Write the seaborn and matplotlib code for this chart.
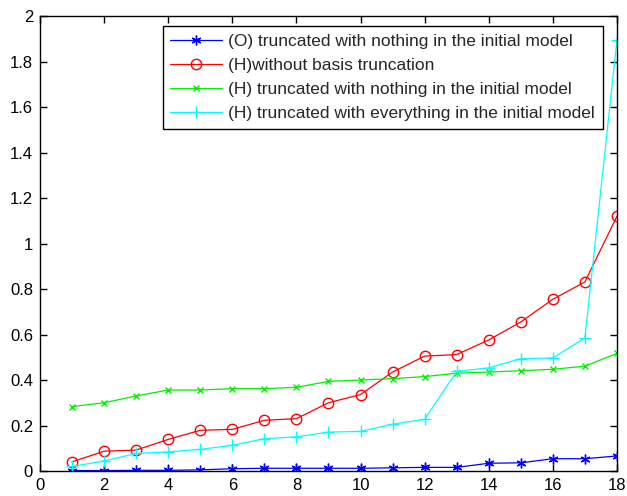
import matplotlib
matplotlib.use("Agg")
import matplotlib.pyplot as plt
import numpy as np
import pandas as pd
import seaborn as sns

# Problem index
steps = list(range(1, 19))

# Series values
o_trunc_nothing = [0.002, 0.002, 0.003, 0.003, 0.005, 0.010, 0.012, 0.012, 0.012,
                   0.012, 0.014, 0.016, 0.016, 0.034, 0.036, 0.054, 0.054, 0.066]
h_no_trunc = [0.040, 0.087, 0.092, 0.139, 0.179, 0.183, 0.223, 0.230, 0.300,
              0.336, 0.435, 0.505, 0.512, 0.576, 0.655, 0.755, 0.831, 1.120]
h_trunc_nothing = [0.283, 0.300, 0.330, 0.356, 0.356, 0.362, 0.362, 0.368, 0.394,
                   0.400, 0.406, 0.415, 0.430, 0.435, 0.441, 0.447, 0.461, 0.517]
h_trunc_everything = [0.020, 0.044, 0.077, 0.084, 0.095, 0.113, 0.142, 0.150, 0.171,
                      0.174, 0.206, 0.227, 0.438, 0.453, 0.494, 0.497, 0.585, 1.895]

labels = [
    "(O) truncated with nothing in the initial model",
    "(H)without basis truncation",
    "(H) truncated with nothing in the initial model",
    "(H) truncated with everything in the initial model",
]
values = [o_trunc_nothing, h_no_trunc, h_trunc_nothing, h_trunc_everything]
colors = ["#0000ff", "#ff0000", "#00f000", "#00ffff"]
markers = [(6, 2, 0), "o", "x", "+"]
marker_sizes = [7, 7.5, 5, 8]

x_ticks = list(range(0, 19, 2))
y_ticks = [0, 0.2, 0.4, 0.6, 0.8, 1, 1.2, 1.4, 1.6, 1.8, 2]
y_tick_labels = ["0", "0.2", "0.4", "0.6", "0.8", "1", "1.2", "1.4", "1.6", "1.8", "2"]

sns.set_theme(style="ticks")
plt.rcParams["font.family"] = ["Liberation Sans", "DejaVu Sans"]

fig = plt.figure(figsize=(6.27, 4.96), dpi=100)
ax = fig.add_axes([0.0638, 0.0504, 0.9202, 0.9173])

for lab, vals, col, mk, ms in zip(labels, values, colors, markers, marker_sizes):
    df = pd.DataFrame({"x": steps, "y": vals})
    face = "none" if mk == "o" else col
    sns.lineplot(data=df, x="x", y="y", ax=ax, color=col, marker=mk,
                 markersize=ms, markerfacecolor=face, markeredgecolor=col,
                 markeredgewidth=1.0, linewidth=0.9, label=lab)

ax.set_xlim(0, 18)
ax.set_ylim(0, 2)
ax.set_xticks(x_ticks)
ax.set_xticklabels([str(t) for t in x_ticks])
ax.set_yticks(y_ticks)
ax.set_yticklabels(y_tick_labels)
ax.set_xlabel("")
ax.set_ylabel("")
ax.tick_params(direction="in", length=5, width=1, top=True, right=True,
               labelsize=12, colors="black", pad=5)
for sp in ax.spines.values():
    sp.set_visible(True)
    sp.set_color("black")
    sp.set_linewidth(1.0)

leg = ax.legend(loc="upper right", bbox_to_anchor=(0.9757, 0.978), fontsize=12.5,
                frameon=True, fancybox=False, handlelength=3.0,
                borderpad=0.45, labelspacing=0.51, handletextpad=0.34,
                borderaxespad=0.0)
leg.get_frame().set_edgecolor("black")
leg.get_frame().set_linewidth(1.0)
leg.get_frame().set_alpha(1.0)

fig.savefig("out.png", dpi=100)
